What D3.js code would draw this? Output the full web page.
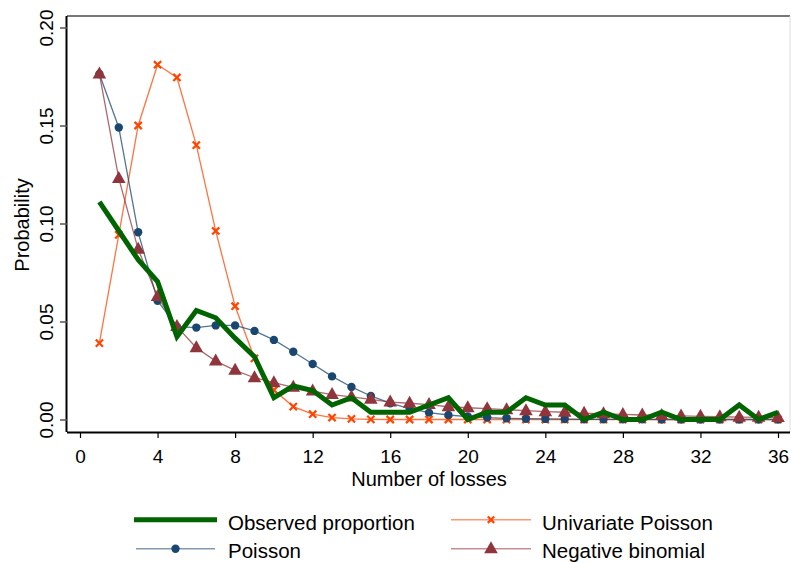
<!DOCTYPE html>
<html><head><meta charset="utf-8">
<script src="https://cdn.jsdelivr.net/npm/d3@7"></script>
<style>body{margin:0;background:#fff}svg{display:block}text{font-family:"Liberation Sans",Arial,sans-serif}</style>
</head><body><svg id="c" width="791" height="562"></svg>
<script>
const losses = d3.range(1, 37);
const observed = [0.111,0.0963,0.0815,0.0704,0.0422,0.0556,0.0519,0.0415,0.0320,0.0111,0.0171,0.0148,0.0074,0.0111,0.0037,0.0037,0.0037,0.0074,0.0111,0,0.0037,0.0037,0.0111,0.0074,0.0074,0,0.0037,0,0,0.0037,0,0,0,0.0074,0,0.0037];
const poisson = [0.1763,0.149,0.0955,0.0606,0.0474,0.0469,0.048,0.048,0.0452,0.0406,0.0346,0.0283,0.022,0.0166,0.012,0.0083,0.0055,0.0035,0.0023,0.0015,0.001,0.0006,0.0004,0.0003,0.0002,0.0001,0.0001,0.0001,0.0001,0,0,0,0,0,0,0];
const univariatePoisson = [0.039,0.0942,0.150,0.181,0.1745,0.140,0.0962,0.0578,0.0312,0.015,0.0066,0.0027,0.001,0.0003,0.0001,0,0,0,0,0,0,0,0,0,0,0,0,0,0,0,0,0,0,0,0,0];
const negBinomial = [0.1763,0.123,0.0868,0.0627,0.0474,0.0366,0.0298,0.0251,0.0213,0.0188,0.0164,0.0145,0.0127,0.0115,0.0103,0.0089,0.0083,0.0076,0.0065,0.006,0.0055,0.005,0.0045,0.004,0.0037,0.0032,0.0029,0.0026,0.0023,0.002,0.0018,0.0016,0.0014,0.0012,0.0011,0.001];
const xTicks = [0,4,8,12,16,20,24,28,32,36];
const yTicks = [0,0.05,0.10,0.15,0.20];
const legendLabels = ["Observed proportion","Univariate Poisson","Poisson","Negative binomial"];

const svg = d3.select("#c");
const L = 67, R = 790, T = 16, B = 432;
const x = d3.scaleLinear().domain([0,36]).range([80,778]);
const y = d3.scaleLinear().domain([0,0.20]).range([419.5,27.5]);
const FS = 19;

const cGreen = "#006400", cBlue = "#1a476f", cOrange = "#ff4500", cMaroon = "#90353b";

// frame
svg.append("line").attr("x1",L).attr("x2",R).attr("y1",T).attr("y2",T).attr("stroke","#777").attr("stroke-width",2);
svg.append("line").attr("x1",R).attr("x2",R).attr("y1",T).attr("y2",B).attr("stroke","#ddd").attr("stroke-width",1);

// axes
const xAxis = d3.axisBottom(x).tickValues(xTicks).tickSize(6).tickFormat(d3.format("d"));
const gx = svg.append("g").attr("transform",`translate(0,${B})`).call(xAxis);
gx.select(".domain").attr("d",`M${L},0.5H${R}`).attr("stroke","#000").attr("stroke-width",2);
gx.selectAll(".tick line").attr("stroke","#000").attr("stroke-width",1.2);
gx.selectAll("text").attr("font-size",FS).attr("fill","#000").attr("y",31).attr("dy",0);

const yAxis = d3.axisLeft(y).tickValues(yTicks).tickSize(7).tickFormat(d3.format(".2f"));
const gy = svg.append("g").attr("transform",`translate(${L},0)`).call(yAxis);
gy.select(".domain").attr("d",`M-0.5,${T}V${B}`).attr("stroke","#000").attr("stroke-width",2);
gy.selectAll(".tick line").attr("stroke","#555").attr("stroke-width",1.5);
gy.selectAll("text").attr("font-size",FS).attr("fill","#000")
  .attr("transform","rotate(-90)").attr("x",0).attr("y",-14).attr("dy",0).attr("text-anchor","middle");

svg.append("text").attr("x",429).attr("y",486).attr("text-anchor","middle").attr("font-size",20).text("Number of losses");
svg.append("text").attr("transform","translate(29,225) rotate(-90)").attr("text-anchor","middle").attr("font-size",20).text("Probability");

const line = d3.line().x((d,i)=>x(losses[i])).y(d=>y(d));
const plot = svg.append("g");

function xMark(g, cx, cy, s, col){
  g.append("path").attr("d",`M${cx-s},${cy-s}L${cx+s},${cy+s}M${cx-s},${cy+s}L${cx+s},${cy-s}`)
   .attr("stroke",col).attr("stroke-width",2.2).attr("fill","none");
}
function tri(g, cx, cy, col){
  g.append("path").attr("d",`M${cx},${cy-7.5}L${cx+6.8},${cy+4.5}L${cx-6.8},${cy+4.5}Z`).attr("fill",col);
}

// univariate poisson
plot.append("path").datum(univariatePoisson).attr("d",line).attr("fill","none").attr("stroke",cOrange).attr("stroke-opacity",0.75).attr("stroke-width",1.3);
univariatePoisson.forEach((v,i)=>xMark(plot,x(losses[i]),y(v),3.6,cOrange));

// poisson
plot.append("path").datum(poisson).attr("d",line).attr("fill","none").attr("stroke",cBlue).attr("stroke-opacity",0.75).attr("stroke-width",1.3);
plot.selectAll("circle.p").data(poisson).join("circle").attr("cx",(d,i)=>x(losses[i])).attr("cy",d=>y(d)).attr("r",4.2).attr("fill",cBlue);

// negative binomial
plot.append("path").datum(negBinomial).attr("d",line).attr("fill","none").attr("stroke",cMaroon).attr("stroke-opacity",0.75).attr("stroke-width",1.3);
negBinomial.forEach((v,i)=>tri(plot,x(losses[i]),y(v),cMaroon));

// observed
plot.append("path").datum(observed).attr("d",line).attr("fill","none").attr("stroke",cGreen).attr("stroke-width",5).attr("stroke-linejoin","miter");

// legend
const lg = svg.append("g");
const rows = [519.7, 548.7];
const base = [529.5, 558];
const LF = 20.5;
lg.append("line").attr("x1",134).attr("x2",217).attr("y1",rows[0]).attr("y2",rows[0]).attr("stroke",cGreen).attr("stroke-width",5);
lg.append("text").attr("x",228).attr("y",base[0]).attr("font-size",LF).text(legendLabels[0]);
lg.append("line").attr("x1",451).attr("x2",531).attr("y1",rows[0]).attr("y2",rows[0]).attr("stroke",cOrange).attr("stroke-opacity",0.55).attr("stroke-width",1.5);
xMark(lg,491,rows[0],3.2,cOrange);
lg.append("text").attr("x",542).attr("y",base[0]).attr("font-size",LF).text(legendLabels[1]);
lg.append("line").attr("x1",136).attr("x2",215).attr("y1",rows[1]).attr("y2",rows[1]).attr("stroke",cBlue).attr("stroke-opacity",0.55).attr("stroke-width",1.5);
lg.append("circle").attr("cx",175.5).attr("cy",rows[1]).attr("r",4.2).attr("fill",cBlue);
lg.append("text").attr("x",228).attr("y",base[1]).attr("font-size",LF).text(legendLabels[2]);
lg.append("line").attr("x1",451).attr("x2",531).attr("y1",rows[1]).attr("y2",rows[1]).attr("stroke",cMaroon).attr("stroke-opacity",0.55).attr("stroke-width",1.5);
tri(lg,491,rows[1],cMaroon);
lg.append("text").attr("x",542).attr("y",base[1]).attr("font-size",LF).text(legendLabels[3]);
</script></body></html>
